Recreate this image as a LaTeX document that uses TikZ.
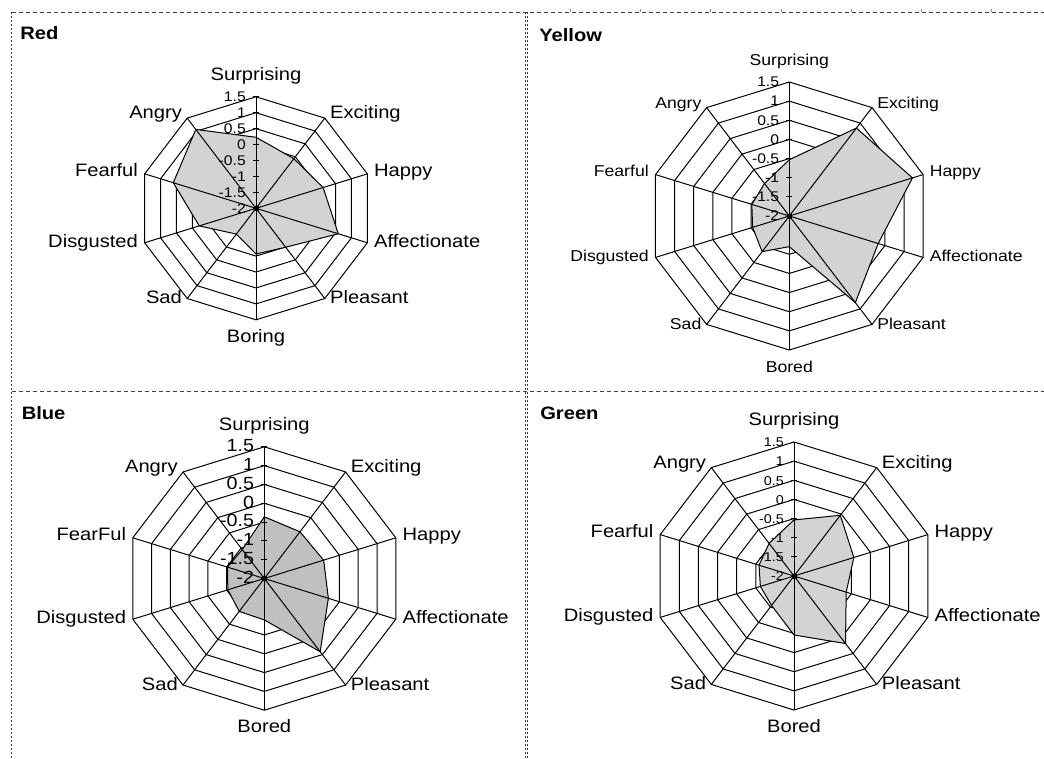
\documentclass[tikz,border=0pt]{standalone}
\usepackage{fontspec}
\setmainfont{Liberation Sans}[FakeStretch=1.12]
\definecolor{areafill}{RGB}{211,211,211}
\definecolor{bluefill}{RGB}{192,192,192}
\tikzset{
  gridline/.style={draw=black, line width=0.75pt},
  dataarea/.style={draw=black, line width=0.75pt},
  hframe/.style={draw=black!75, line width=0.75pt, dash pattern=on 3pt off 2.25pt},
  vframe/.style={draw=black!75, line width=0.75pt, dash pattern=on 1.5pt off 1.5pt},
  catlab/.style={inner sep=0pt, text height=0.72em, text depth=0.21em},
  vallab/.style={inner sep=0pt, anchor=east, text height=0.72em, text depth=0em},
  titlelab/.style={inner sep=0pt, anchor=west, font=\fontsize{13.5}{14}\selectfont\bfseries},
  rulertick/.style={draw=black!45, line width=0.5pt}
}
% #1 name, #2 cx, #3 cy, #4 R, #5 fill, #6 data (steps), #7 labels, #8 label size, #9 value size
\newcommand{\radar}[9]{%
  \pgfmathsetmacro{\st}{#4/7}
  \coordinate (#1c) at (#2,#3);
  \foreach \k in {0,...,9}{
    \coordinate (#1o\k) at ({#2+1.05*#4*cos(90-36*\k)},{#3-#4*sin(90-36*\k)});
  }
  \foreach \j in {1,...,7}{
    \draw[gridline] ({#2},{#3-\j*\st})
      \foreach \k in {1,...,9}{ -- ({#2+1.05*\j*\st*cos(90-36*\k)},{#3-\j*\st*sin(90-36*\k)}) } -- cycle;
  }
  \foreach \v [count=\k from 0] in {#6}{
    \coordinate (#1d\k) at ({#2+1.05*\v*\st*cos(90-36*\k)},{#3-\v*\st*sin(90-36*\k)});
  }
  \filldraw[dataarea, fill=#5] (#1d0) -- (#1d1) -- (#1d2) -- (#1d3) -- (#1d4) -- (#1d5)
    -- (#1d6) -- (#1d7) -- (#1d8) -- (#1d9) -- cycle;
  \foreach \k in {0,...,9}{ \draw[gridline] (#1c) -- (#1o\k); }
  \foreach \j in {0,...,7}{ \draw[gridline] ({#2-3},{#3-\j*\st}) -- ({#2+3},{#3-\j*\st}); }
  \fill (#1c) ++(-2.5,-2.5) rectangle ++(5,5);
  \foreach \j/\t in {0/-2,1/-1.5,2/-1,3/-0.5,4/0,5/0.5,6/1,7/1.5}{
    \node[vallab, font=\fontsize{#9}{#9}\selectfont] (#1v\j) at ({#2-10},{#3-\j*\st}) {\t};
  }
  \foreach \lab [count=\k from 0] in {#7}{
    \pgfmathsetmacro{\ox}{{0,5,6.5,6.5,5,0,-5,-6.5,-6.5,-5}[\k]}
    \pgfmathsetmacro{\oy}{{-20,-2.7,-1,1,2,19,2,1,-1,-2.7}[\k]}
    \ifcase\k\relax \def\an{center}\or\def\an{west}\or\def\an{west}\or\def\an{west}\or\def\an{west}\or\def\an{center}\else\def\an{east}\fi
    \node[catlab, anchor=\an, font=\fontsize{#8}{#8}\selectfont] (#1l\k) at ([shift={(\ox,\oy)}]#1o\k) {\lab};
  }
}
\begin{document}
\begin{tikzpicture}[x=0.75pt, y=-0.75pt]
\useasboundingbox (0,0) rectangle (1044,758);
\fill[white] (0,0) rectangle (1044,758);

% panel frame
\draw[hframe] (11.7,12.3) -- (1044,12.3);
\draw[hframe] (11.7,391) -- (1044,391);
\draw[vframe] (11.7,12.3) -- (11.7,758);
\draw[vframe] (525.3,12.3) -- (525.3,758);
\draw[vframe] (527.8,12.3) -- (527.8,758);
\foreach \x in {570,640.7,710.7,781.7,851.7,921.7,991.7}{ \draw[rulertick] (\x,9) -- (\x,11.5); }

% titles
\node[titlelab] (tred) at (20,33.3) {Red};
\node[titlelab] (tyellow) at (539,35) {Yellow};
\node[titlelab] (tblue) at (21.5,413.3) {Blue};
\node[titlelab] (tgreen) at (540,413.3) {Green};

\radar{red}{256}{208.3}{111.5}{areafill}{4.46,3.85,4.22,5.17,3.02,2.87,2.0,3.57,5.2,6.12}{Surprising,Exciting,Happy,Affectionate,Pleasant,Boring,Sad,Disgusted,Fearful,Angry}{13.5}{10.5}
\radar{yellow}{789.3}{216}{134}{areafill}{2.94,5.68,6.44,4.65,5.59,1.6,2.3,1.92,1.96,2.1}{Surprising,Exciting,Happy,Affectionate,Pleasant,Bored,Sad,Disgusted,Fearful,Angry}{11.8}{10.5}
\radar{blue}{264.3}{578.5}{131.7}{bluefill}{3.28,3.07,3.16,3.41,4.81,2.2,2.16,1.94,1.96,1.9}{Surprising,Exciting,Happy,Affectionate,Pleasant,Bored,Sad,Disgusted,FearFul,Angry}{13.5}{13.2}
\radar{green}{794}{576}{134}{areafill}{2.93,3.92,3.13,2.73,4.36,3.08,1.9,1.76,1.83,2.11}{Surprising,Exciting,Happy,Affectionate,Pleasant,Bored,Sad,Disgusted,Fearful,Angry}{13.5}{9.6}
\end{tikzpicture}
\end{document}
